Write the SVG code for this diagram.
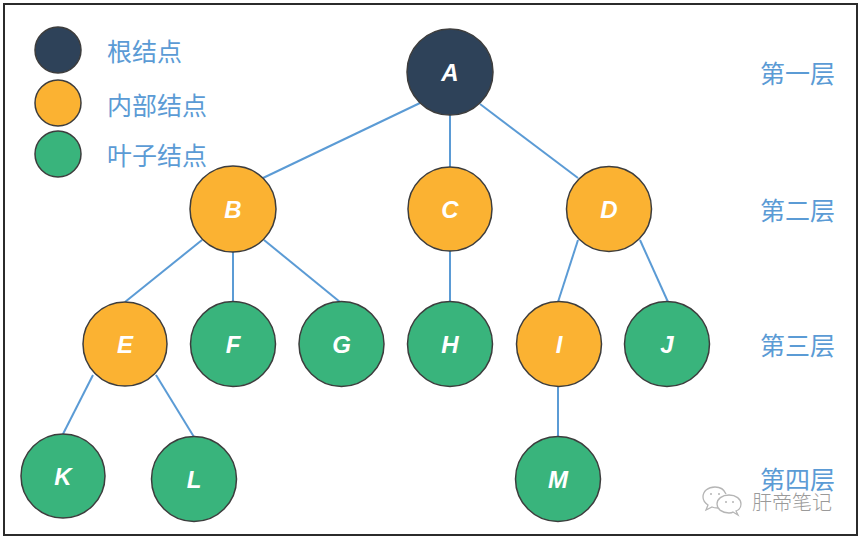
<svg xmlns="http://www.w3.org/2000/svg" width="862" height="540" viewBox="0 0 862 540">
  <style>
    .edge { stroke: #5b9bd5; stroke-width: 2; fill: none; }
    .node { stroke: #3d3d3d; stroke-width: 1.5; }
    .root { fill: #2e4259; }
    .inner { fill: #fbb232; }
    .leaf { fill: #39b47c; }
    .lbl { fill: #ffffff; font-family: "Liberation Sans", "DejaVu Sans", sans-serif; font-weight: bold; font-style: italic; font-size: 24px; text-anchor: middle; dominant-baseline: central; }
    .cjk { fill: #5b9bd5; font-family: "Noto Sans CJK SC", "Noto Sans", sans-serif; font-size: 25px; dominant-baseline: central; }
    .wm { fill: #9a9a9a; font-family: "Noto Sans CJK SC", sans-serif; font-size: 20px; font-weight: 300; dominant-baseline: central; }
  </style>
  <rect x="0" y="0" width="862" height="540" fill="#ffffff"/>
  <rect x="4" y="4" width="853" height="531" fill="#ffffff" stroke="#2b2b2b" stroke-width="2"/>

  <g id="legend">
    <circle class="node root" cx="58" cy="50" r="23"/>
    <circle class="node inner" cx="58" cy="103" r="23"/>
    <circle class="node leaf" cx="58" cy="154" r="23"/>
    <text class="cjk" x="107" y="50">根结点</text>
    <text class="cjk" x="107" y="104">内部结点</text>
    <text class="cjk" x="107" y="154">叶子结点</text>
  </g>

  <g id="levels">
    <text class="cjk" x="760" y="72">第一层</text>
    <text class="cjk" x="760" y="209">第二层</text>
    <text class="cjk" x="760" y="344">第三层</text>
    <text class="cjk" x="760" y="478">第四层</text>
  </g>

  <g id="connectors">
    <line class="edge" x1="420" y1="103" x2="263" y2="178"/>
    <line class="edge" x1="450" y1="113" x2="450" y2="168"/>
    <line class="edge" x1="480" y1="104" x2="578" y2="178"/>
    <line class="edge" x1="202" y1="240" x2="125" y2="302"/>
    <line class="edge" x1="233" y1="250" x2="233" y2="302"/>
    <line class="edge" x1="264" y1="240" x2="340" y2="302"/>
    <line class="edge" x1="450" y1="250" x2="450" y2="302"/>
    <line class="edge" x1="578" y1="240" x2="558" y2="302"/>
    <line class="edge" x1="640" y1="240" x2="668" y2="302"/>
    <line class="edge" x1="93" y1="375" x2="63" y2="434"/>
    <line class="edge" x1="156" y1="375" x2="194" y2="437"/>
    <line class="edge" x1="558" y1="386" x2="558" y2="437"/>
  </g>

  <g id="node-A"><circle class="node root" cx="450" cy="72" r="43"/><text class="lbl" x="450" y="72">A</text></g>
  <g id="node-B"><circle class="node inner" cx="233" cy="209" r="43"/><text class="lbl" x="233" y="209">B</text></g>
  <g id="node-C"><circle class="node inner" cx="450" cy="209" r="42"/><text class="lbl" x="450" y="209">C</text></g>
  <g id="node-D"><circle class="node inner" cx="609" cy="209" r="42.5"/><text class="lbl" x="609" y="209">D</text></g>
  <g id="node-E"><circle class="node inner" cx="125" cy="344" r="42"/><text class="lbl" x="125" y="344">E</text></g>
  <g id="node-F"><circle class="node leaf" cx="233" cy="344" r="42.5"/><text class="lbl" x="233" y="344">F</text></g>
  <g id="node-G"><circle class="node leaf" cx="341.5" cy="344" r="42.5"/><text class="lbl" x="341.5" y="344">G</text></g>
  <g id="node-H"><circle class="node leaf" cx="450" cy="344" r="42.5"/><text class="lbl" x="450" y="344">H</text></g>
  <g id="node-I"><circle class="node inner" cx="559" cy="344" r="42.5"/><text class="lbl" x="559" y="344">I</text></g>
  <g id="node-J"><circle class="node leaf" cx="667" cy="344" r="42.5"/><text class="lbl" x="667" y="344">J</text></g>
  <g id="node-K"><circle class="node leaf" cx="63" cy="476" r="42"/><text class="lbl" x="63" y="476">K</text></g>
  <g id="node-L"><circle class="node leaf" cx="194" cy="479" r="42.5"/><text class="lbl" x="194" y="479">L</text></g>
  <g id="node-M"><circle class="node leaf" cx="558" cy="479" r="42.5"/><text class="lbl" x="558" y="479">M</text></g>

  <g id="watermark" fill="none" stroke="#b5b5b5" stroke-width="1.3">
    <path d="M726 494 C724 489 719 487 715 487 C708 487 703 491 703 497 C703 500 705 503 708 505 L706 510 L712 507 C714 508 716 508 718 508"/>
    <path d="M729 495 C736 495 741 499 741 504 C741 507 739 510 736 511 L738 515 L733 512 C732 513 730 513 729 513 C722 513 717 509 717 504 C717 499 722 495 729 495 Z"/>
    <circle cx="711" cy="494" r="1" fill="#b5b5b5" stroke="none"/>
    <circle cx="719" cy="494" r="1" fill="#b5b5b5" stroke="none"/>
    <circle cx="726" cy="502" r="1" fill="#b5b5b5" stroke="none"/>
    <circle cx="733" cy="502" r="1" fill="#b5b5b5" stroke="none"/>
    <text class="wm" x="752" y="501" stroke="none">肝帝笔记</text>
  </g>
</svg>
